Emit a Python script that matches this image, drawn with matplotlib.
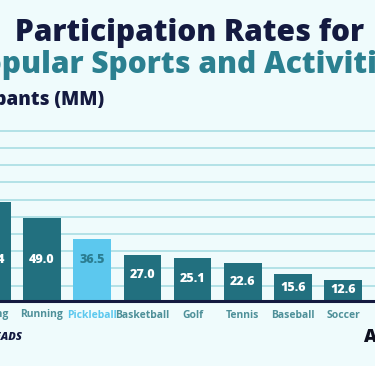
import matplotlib
matplotlib.use("Agg")
import matplotlib.pyplot as plt
import numpy as np

categories = ["Hiking", "Running", "Pickleball", "Basketball", "Golf",
              "Tennis", "Baseball", "Soccer"]
values = [58.4, 49.0, 36.5, 27.0, 25.1, 22.6, 15.6, 12.6]
highlight = "Pickleball"

title1 = "Participation Rates for"
title2 = "Popular Sports and Activities"
ylabel = "Participants (MM)"

BG = "#effbfc"
DARK = "#22707f"
LIGHT = "#5cc8ee"
NAVY = "#141a40"
TEAL_T = "#2b8090"
CAT_C = "#4e9099"
GRID_C = "#a9dde3"
FONT = "Open Sans"

W, H = 375, 366
fig = plt.figure(figsize=(W / 100, H / 100), dpi=100)
fig.patch.set_facecolor(BG)
ax = fig.add_axes([0, 0, 1, 1])
ax.set_facecolor(BG)

PX_PER_UNIT_Y = 1.70
BASE_PX = 301
PX_PER_CAT = 50.2
FIRST_CENTER_PX = -8.2

ax.set_xlim(-FIRST_CENTER_PX / PX_PER_CAT, (W - FIRST_CENTER_PX) / PX_PER_CAT)
ax.set_ylim(-(H - BASE_PX) / PX_PER_UNIT_Y, BASE_PX / PX_PER_UNIT_Y)

x = np.arange(len(categories))
colors = [LIGHT if c == highlight else DARK for c in categories]
ax.bar(x, values, width=0.75, color=colors, zorder=2)

# gridlines
ticks = 9.0 + 10.12 * np.arange(10)
ax.set_yticks(ticks)
ax.grid(axis="y", color=GRID_C, lw=1.2, zorder=0)
ax.set_axisbelow(True)
ax.tick_params(length=0, labelleft=False, labelbottom=False)
ax.set_xticks([])
for s in ax.spines.values():
    s.set_visible(False)

ax.axhline(0, color=NAVY, lw=2.2, zorder=3)

for xi, v, c in zip(x, values, categories):
    ly = min(max(v - 12, v / 2), 24)
    tc = "#2b7d91" if c == highlight else "white"
    ax.text(xi, ly, f"{v:.1f}", ha="center", va="center", color=tc,
            fontsize=9, fontweight="heavy", family=FONT, zorder=4)
    cc = LIGHT if c == highlight else CAT_C
    ax.text(xi, -(315 - BASE_PX) / PX_PER_UNIT_Y, c, ha="center", va="center",
            color=cc, fontsize=7.5, fontweight="bold", family=FONT, clip_on=False)

fig.text(190 / W, 1 - 33 / H, title1, ha="center", va="center", color=NAVY,
         fontsize=21.5, fontweight="heavy", family=FONT)
fig.text(188 / W, 1 - 65 / H, title2, ha="center", va="center", color=TEAL_T,
         fontsize=21.5, fontweight="heavy", family=FONT)
fig.text(104 / W, 1 - 100 / H, ylabel, ha="right", va="center", color=NAVY,
         fontsize=13.5, fontweight="heavy", family=FONT)

fig.text(23 / W, 1 - 338 / H, "PICKLEHEADS", ha="right", va="center", color=NAVY,
         fontsize=8, fontweight="heavy", style="italic", family=FONT)
fig.text(364 / W, 1 - 337 / H, "APP", ha="left", va="center", color="#0d0f1e",
         fontsize=13, fontweight="heavy", family=FONT)

fig.savefig("out.png", dpi=100, facecolor=BG)
